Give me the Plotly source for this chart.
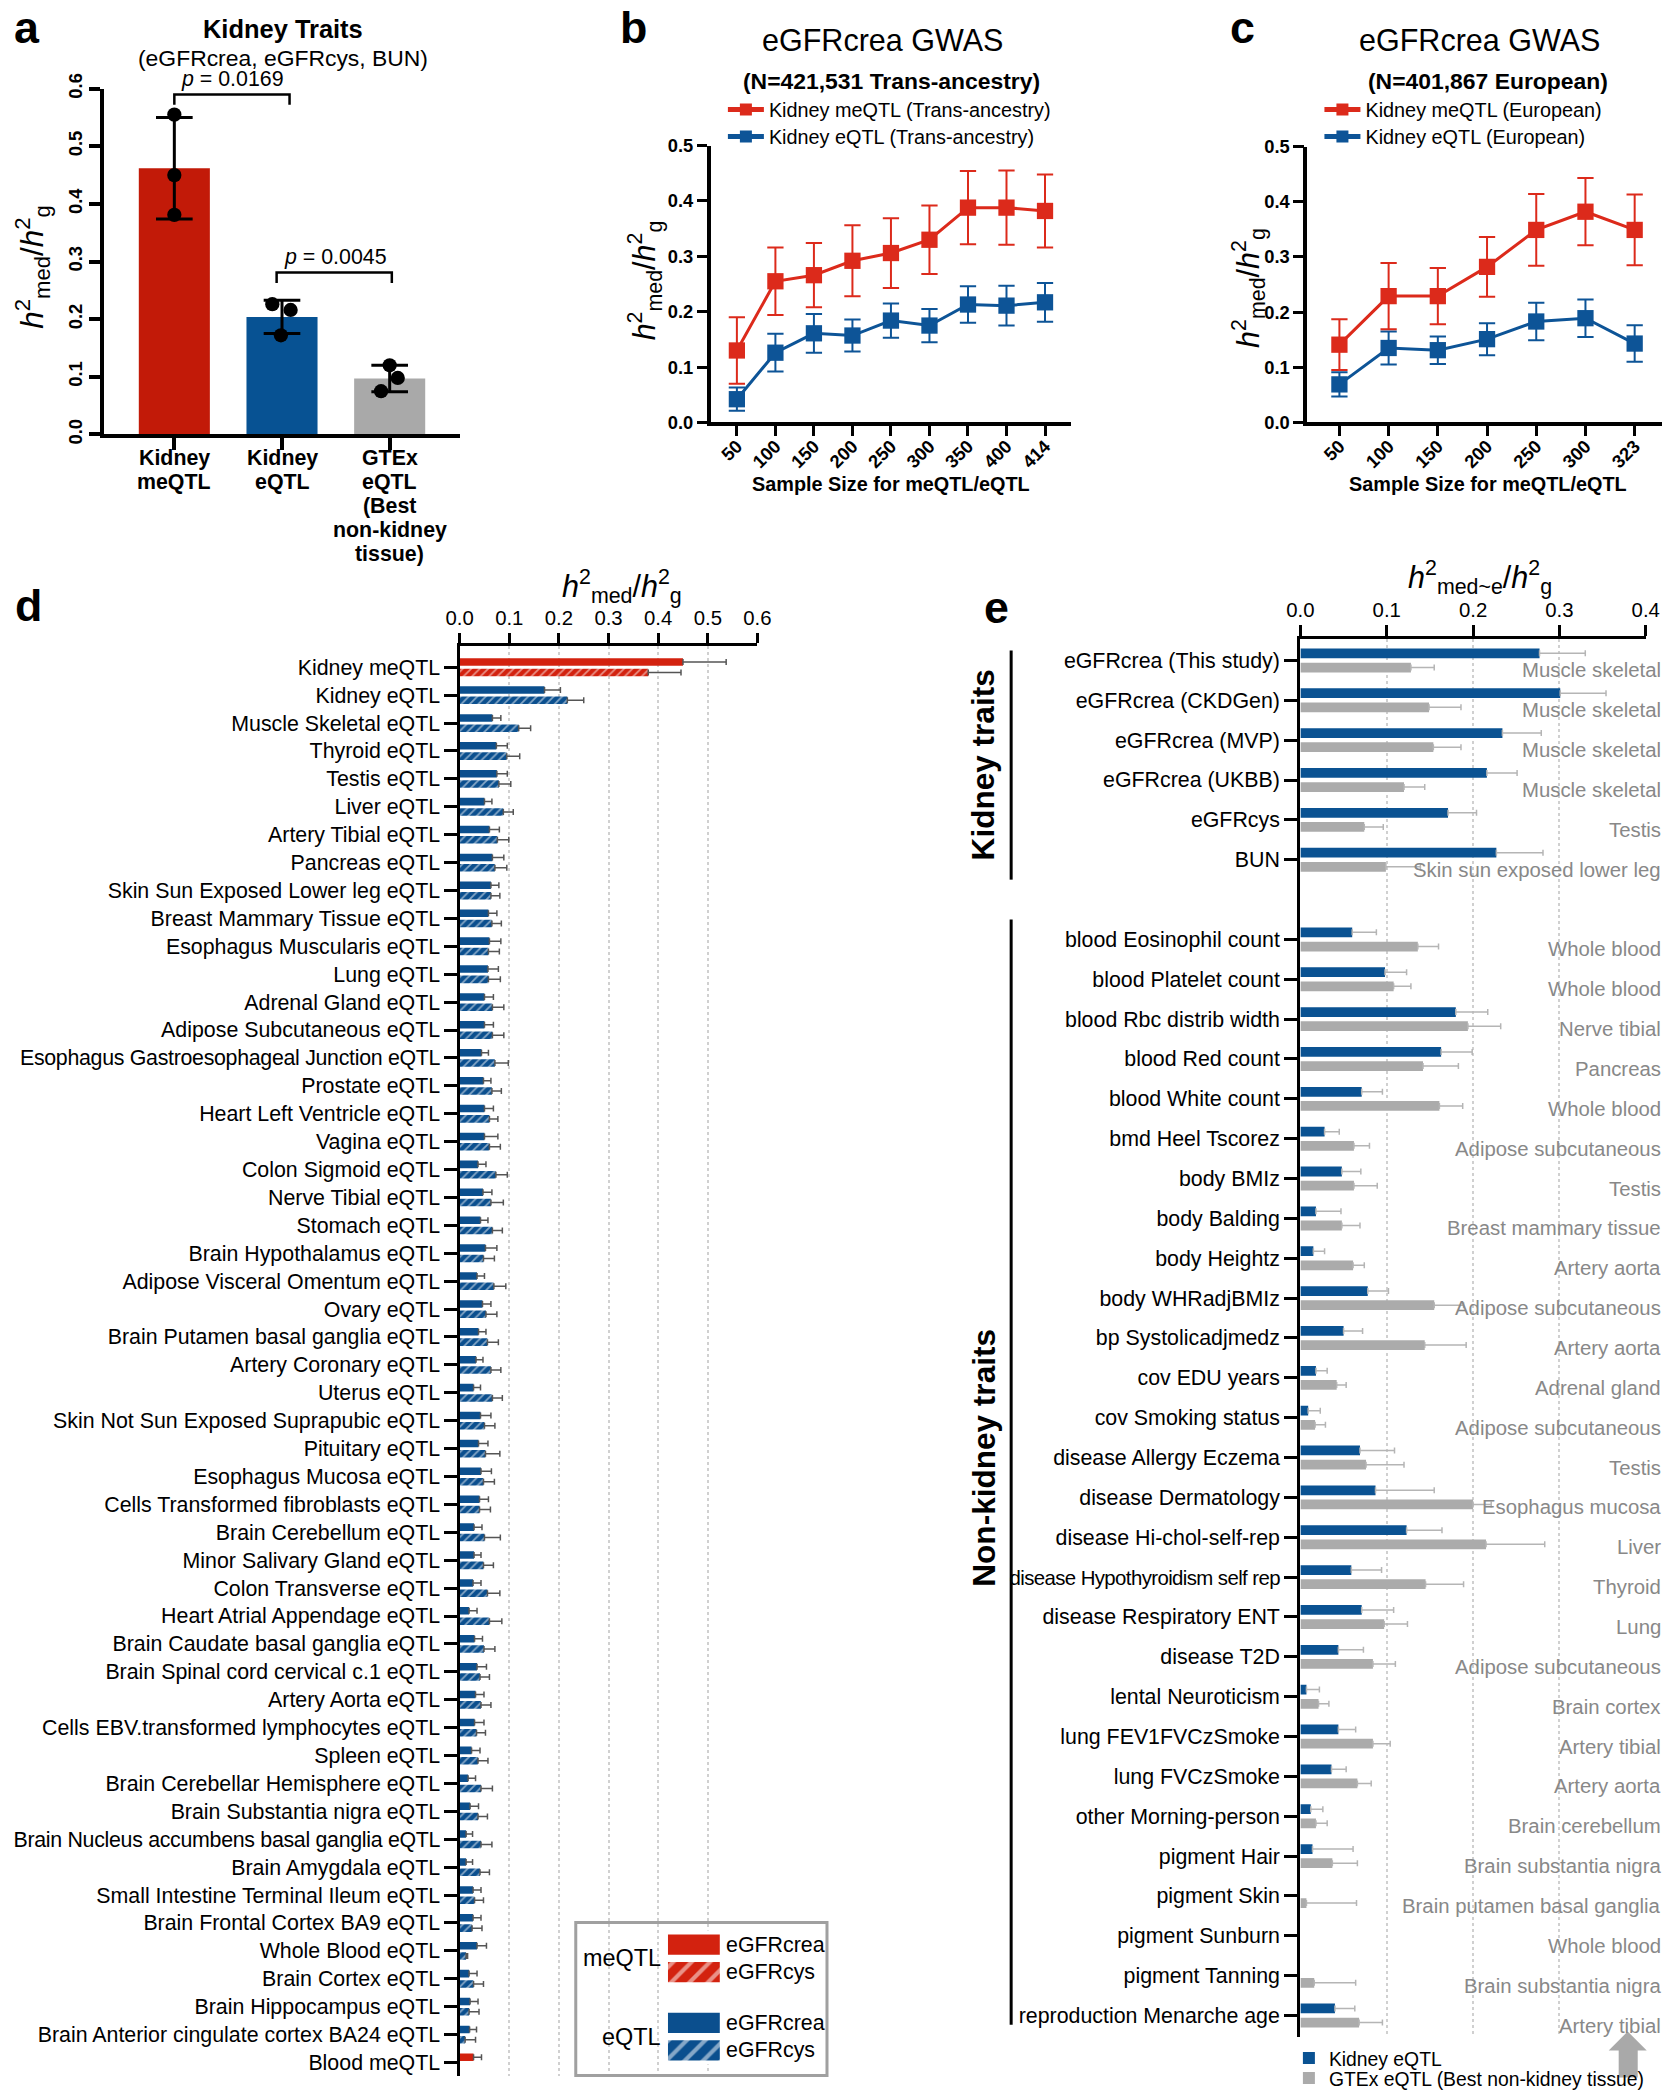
import plotly.graph_objects as go

W, H = 1678, 2100          # figure / page size
# The captured picture shows the page inside a thin border, rescaled to W x H.
# Positions below are given in picture pixels and converted to figure fractions.
PAD_X, PAD_Y = 15.0, 13.45
KX, KY = W / (W + 2 * PAD_X), 0.9887
FS = 1 / KX                # size compensation for fonts / marks
FONT = "Liberation Sans, Arial, Helvetica, sans-serif"

# ---------------- DATA ----------------
a_groups = ["Kidney<br>meQTL", "Kidney<br>eQTL", "GTEx<br>eQTL<br>(Best<br>non-kidney<br>tissue)"]
a_means = [0.462, 0.204, 0.097]
a_sd = [0.088, 0.029, 0.023]
a_points = [[0.555, 0.450, 0.381], [0.226, 0.216, 0.172], [0.120, 0.098, 0.075]]
a_pvalues = ["0.0169", "0.0045"]

b_sizes = [50, 100, 150, 200, 250, 300, 350, 400, 414]
b_meqtl = [0.130, 0.255, 0.266, 0.292, 0.306, 0.330, 0.388, 0.388, 0.382]
b_meqtl_err = [0.060, 0.061, 0.058, 0.064, 0.063, 0.062, 0.066, 0.067, 0.066]
b_eqtl = [0.042, 0.126, 0.161, 0.157, 0.184, 0.175, 0.213, 0.211, 0.217]
b_eqtl_err = [0.021, 0.034, 0.035, 0.029, 0.031, 0.030, 0.033, 0.036, 0.035]

c_sizes = [50, 100, 150, 200, 250, 300, 323]
c_meqtl = [0.141, 0.229, 0.229, 0.282, 0.349, 0.382, 0.349]
c_meqtl_err = [0.046, 0.060, 0.051, 0.054, 0.065, 0.061, 0.064]
c_eqtl = [0.069, 0.135, 0.131, 0.151, 0.183, 0.189, 0.143]
c_eqtl_err = [0.022, 0.030, 0.025, 0.029, 0.034, 0.034, 0.033]

d_labels = [
    "Kidney meQTL", "Kidney eQTL", "Muscle Skeletal eQTL", "Thyroid eQTL", "Testis eQTL",
    "Liver eQTL", "Artery Tibial eQTL", "Pancreas eQTL", "Skin Sun Exposed Lower leg eQTL",
    "Breast Mammary Tissue eQTL", "Esophagus Muscularis eQTL", "Lung eQTL", "Adrenal Gland eQTL",
    "Adipose Subcutaneous eQTL", "Esophagus Gastroesophageal Junction eQTL", "Prostate eQTL",
    "Heart Left Ventricle eQTL", "Vagina eQTL", "Colon Sigmoid eQTL", "Nerve Tibial eQTL",
    "Stomach eQTL", "Brain Hypothalamus eQTL", "Adipose Visceral Omentum eQTL", "Ovary eQTL",
    "Brain Putamen basal ganglia eQTL", "Artery Coronary eQTL", "Uterus eQTL",
    "Skin Not Sun Exposed Suprapubic eQTL", "Pituitary eQTL", "Esophagus Mucosa eQTL",
    "Cells Transformed fibroblasts eQTL", "Brain Cerebellum eQTL", "Minor Salivary Gland eQTL",
    "Colon Transverse eQTL", "Heart Atrial Appendage eQTL", "Brain Caudate basal ganglia eQTL",
    "Brain Spinal cord cervical c.1 eQTL", "Artery Aorta eQTL", "Cells EBV.transformed lymphocytes eQTL",
    "Spleen eQTL", "Brain Cerebellar Hemisphere eQTL", "Brain Substantia nigra eQTL",
    "Brain Nucleus accumbens basal ganglia eQTL", "Brain Amygdala eQTL",
    "Small Intestine Terminal Ileum eQTL", "Brain Frontal Cortex BA9 eQTL", "Whole Blood eQTL",
    "Brain Cortex eQTL", "Brain Hippocampus eQTL", "Brain Anterior cingulate cortex BA24 eQTL",
    "Blood meQTL"]
d_crea = [0.450, 0.171, 0.066, 0.074, 0.075, 0.050, 0.060, 0.066, 0.063, 0.058, 0.060, 0.057, 0.050, 0.050, 0.044,
          0.048, 0.050, 0.050, 0.037, 0.047, 0.042, 0.052, 0.035, 0.046, 0.038, 0.033, 0.028, 0.042, 0.038, 0.043,
          0.040, 0.029, 0.029, 0.027, 0.019, 0.030, 0.035, 0.032, 0.030, 0.024, 0.017, 0.021, 0.013, 0.013, 0.027,
          0.027, 0.035, 0.019, 0.021, 0.020, 0.028]
d_crea_err = [0.087, 0.032, 0.017, 0.022, 0.021, 0.015, 0.020, 0.023, 0.016, 0.017, 0.023, 0.021, 0.018, 0.018, 0.014,
              0.015, 0.018, 0.027, 0.016, 0.018, 0.015, 0.023, 0.015, 0.017, 0.015, 0.014, 0.014, 0.021, 0.019, 0.021,
              0.018, 0.016, 0.014, 0.016, 0.016, 0.016, 0.019, 0.017, 0.019, 0.017, 0.015, 0.017, 0.013, 0.013, 0.016,
              0.016, 0.019, 0.016, 0.016, 0.014, 0.016]
d_cys = [0.380, 0.217, 0.119, 0.095, 0.079, 0.088, 0.076, 0.071, 0.063, 0.065, 0.058, 0.058, 0.066, 0.066, 0.071,
         0.065, 0.060, 0.060, 0.073, 0.063, 0.066, 0.048, 0.069, 0.053, 0.056, 0.063, 0.066, 0.050, 0.052, 0.048,
         0.040, 0.050, 0.048, 0.056, 0.060, 0.049, 0.041, 0.043, 0.034, 0.037, 0.043, 0.037, 0.043, 0.041, 0.030,
         0.025, 0.013, 0.028, 0.019, 0.011, None]
d_cys_err = [0.066, 0.033, 0.024, 0.026, 0.024, 0.020, 0.023, 0.024, 0.018, 0.019, 0.022, 0.024, 0.023, 0.023, 0.027,
             0.019, 0.017, 0.022, 0.023, 0.025, 0.020, 0.022, 0.024, 0.022, 0.022, 0.020, 0.020, 0.021, 0.029, 0.022,
             0.022, 0.032, 0.020, 0.025, 0.025, 0.022, 0.019, 0.020, 0.018, 0.020, 0.023, 0.019, 0.022, 0.019, 0.018,
             0.020, 0.003, 0.020, 0.020, 0.021, None]

e_kidney_traits = ["eGFRcrea (This study)", "eGFRcrea (CKDGen)", "eGFRcrea (MVP)", "eGFRcrea (UKBB)",
                   "eGFRcys", "BUN"]
e_other_traits = ["blood Eosinophil count", "blood Platelet count", "blood Rbc distrib width", "blood Red count",
                  "blood White count", "bmd Heel Tscorez", "body BMIz", "body Balding", "body Heightz",
                  "body WHRadjBMIz", "bp Systolicadjmedz", "cov EDU years", "cov Smoking status",
                  "disease Allergy Eczema", "disease Dermatology", "disease Hi-chol-self-rep",
                  "disease Hypothyroidism self rep", "disease Respiratory ENT", "disease T2D",
                  "lental Neuroticism", "lung FEV1FVCzSmoke", "lung FVCzSmoke", "other Morning-person",
                  "pigment Hair", "pigment Skin", "pigment Sunburn", "pigment Tanning",
                  "reproduction Menarche age"]
e_tissues = ["Muscle skeletal", "Muscle skeletal", "Muscle skeletal", "Muscle skeletal", "Testis",
             "Skin sun exposed lower leg",
             "Whole blood", "Whole blood", "Nerve tibial", "Pancreas", "Whole blood", "Adipose subcutaneous",
             "Testis", "Breast mammary tissue", "Artery aorta", "Adipose subcutaneous", "Artery aorta",
             "Adrenal gland", "Adipose subcutaneous", "Testis", "Esophagus mucosa", "Liver", "Thyroid", "Lung",
             "Adipose subcutaneous", "Brain cortex", "Artery tibial", "Artery aorta", "Brain cerebellum",
             "Brain substantia nigra", "Brain putamen basal ganglia", "Whole blood", "Brain substantia nigra",
             "Artery tibial"]
e_kidney_eqtl = [0.277, 0.301, 0.234, 0.216, 0.171, 0.227,
                 0.060, 0.098, 0.180, 0.163, 0.071, 0.028, 0.048, 0.018, 0.015, 0.078, 0.050, 0.018, 0.009, 0.069,
                 0.087, 0.123, 0.059, 0.071, 0.044, 0.007, 0.044, 0.036, 0.012, 0.014, None, None, None, 0.040]
e_kidney_eqtl_err = [0.053, 0.053, 0.045, 0.035, 0.033, 0.054,
                     0.028, 0.025, 0.037, 0.036, 0.024, 0.017, 0.022, 0.029, 0.013, 0.024, 0.022, 0.013, 0.014,
                     0.040, 0.068, 0.041, 0.035, 0.037, 0.029, 0.015, 0.020, 0.017, 0.014, 0.047, None, None, None,
                     0.023]
e_gtex = [0.128, 0.149, 0.154, 0.120, 0.074, 0.099,
          0.136, 0.108, 0.194, 0.142, 0.161, 0.062, 0.062, 0.048, 0.061, 0.155, 0.144, 0.042, 0.017, 0.076,
          0.200, 0.215, 0.145, 0.097, 0.084, 0.021, 0.084, 0.066, 0.018, 0.037, 0.007, None, 0.016, 0.068]
e_gtex_err = [0.027, 0.037, 0.032, 0.024, 0.022, 0.040,
              0.024, 0.020, 0.038, 0.041, 0.027, 0.018, 0.027, 0.021, 0.013, 0.034, 0.048, 0.011, 0.012, 0.044,
              0.021, 0.068, 0.044, 0.027, 0.026, 0.012, 0.020, 0.016, 0.013, 0.029, 0.058, None, 0.048, 0.027]

# ---------------- STYLE ----------------
RED_A, BLUE_A, GREY_A = "#C21A08", "#075293", "#A9A9A9"
RED_B, BLUE_B = "#DC2A1B", "#0D5497"
RED_D, BLUE_D = "#D3220F", "#0B4F8E"
BLUE_E, GREY_E = "#0A5292", "#ABABAB"
TISSUE_GREY = "#888888"
a_jitter = [[0.0, 0.0, 0.0], [-0.09, 0.08, -0.01], [0.0, 0.075, -0.08]]
D_TIGHT = {"Brain Nucleus accumbens basal ganglia eQTL", "Esophagus Gastroesophageal Junction eQTL"}


def fx(x):
    return (x / KX - PAD_X) / W


def fy(y):
    return 1 - (y / KY - PAD_Y) / H


def dom_x(x0, x1):
    return [fx(x0), fx(x1)]


def dom_y(ytop, ybot):
    return [fy(ybot), fy(ytop)]


def s(v):
    return v * FS


def tf(size, bold=False, color="black"):
    d = dict(family=FONT, size=s(size), color=color)
    if bold:
        d["weight"] = "bold"
    return d


fig = go.Figure()

# ---------------- PANEL A ----------------
fig.add_trace(go.Bar(
    x=list(range(len(a_means))), y=a_means, width=0.66,
    marker=dict(color=[RED_A, BLUE_A, GREY_A], line=dict(width=0)),
    error_y=dict(type="data", array=a_sd, color="black", thickness=3, width=s(18)),
    xaxis="x", yaxis="y", showlegend=False, hoverinfo="skip"))
for i, pts in enumerate(a_points):
    fig.add_trace(go.Scatter(
        x=[i + j for j in a_jitter[i]], y=pts, mode="markers",
        marker=dict(color="black", size=s(14)), xaxis="x", yaxis="y", showlegend=False, cliponaxis=False))

# ---------------- PANEL B / C ----------------
for (sizes, me, me_err, e, e_err, xa, ya, legs, suffix) in [
        (b_sizes, b_meqtl, b_meqtl_err, b_eqtl, b_eqtl_err, "x2", "y2", ("legend", "legend2"), "Trans-ancestry"),
        (c_sizes, c_meqtl, c_meqtl_err, c_eqtl, c_eqtl_err, "x3", "y3", ("legend3", "legend4"), "European")]:
    cats = [str(v) for v in sizes]
    fig.add_trace(go.Scatter(
        x=cats, y=e, mode="lines+markers", name=f"Kidney eQTL ({suffix})",
        line=dict(color=BLUE_B, width=3), marker=dict(symbol="square", size=s(16), color=BLUE_B),
        error_y=dict(type="data", array=e_err, color=BLUE_B, thickness=2, width=s(8)),
        xaxis=xa, yaxis=ya, legend=legs[1], cliponaxis=False))
    fig.add_trace(go.Scatter(
        x=cats, y=me, mode="lines+markers", name=f"Kidney meQTL ({suffix})",
        line=dict(color=RED_B, width=3), marker=dict(symbol="square", size=s(16), color=RED_B),
        error_y=dict(type="data", array=me_err, color=RED_B, thickness=2, width=s(8)),
        xaxis=xa, yaxis=ya, legend=legs[0], cliponaxis=False))

# ---------------- PANEL D ----------------
d_pos = list(range(len(d_labels)))
d_colors = [RED_D if "meQTL" in lab else BLUE_D for lab in d_labels]
d_ticktext = [('<span style="letter-spacing:-0.3px">' + t + '</span>') if t in D_TIGHT else t for t in d_labels]
fig.add_trace(go.Bar(
    y=d_pos, x=d_crea, orientation="h", width=0.27, offset=-0.32,
    marker=dict(color=d_colors, line=dict(width=0)),
    error_x=dict(type="data", array=d_crea_err, arrayminus=[0] * len(d_crea), symmetric=False,
                 color="#555555", thickness=1.5, width=3),
    xaxis="x4", yaxis="y4", showlegend=False))
fig.add_trace(go.Bar(
    y=d_pos, x=d_cys, orientation="h", width=0.27, offset=0.05,
    marker=dict(color=d_colors, line=dict(width=0),
                pattern=dict(shape="/", fgcolor="white", size=6, solidity=0.3, fillmode="overlay")),
    error_x=dict(type="data", array=d_cys_err, arrayminus=[0] * len(d_cys), symmetric=False,
                 color="#555555", thickness=1.5, width=3),
    xaxis="x4", yaxis="y4", showlegend=False))

# legend key for panel d (drawn as bars on a hidden mini axis)
leg_rows = [0, 1, 2.85, 3.85]
leg_text = ["eGFRcrea", "eGFRcys", "eGFRcrea", "eGFRcys"]
fig.add_trace(go.Bar(
    y=leg_rows, x=[1, 1, 1, 1], orientation="h", width=0.74,
    marker=dict(color=[RED_D, RED_D, BLUE_D, BLUE_D], line=dict(width=0),
                pattern=dict(shape=["", "/", "", "/"], fgcolor="white", size=13, solidity=0.32,
                             fillmode="overlay")),
    xaxis="x6", yaxis="y6", showlegend=False, hoverinfo="skip"))

# ---------------- PANEL E ----------------
n_k = len(e_kidney_traits)
e_pos = list(range(n_k)) + [n_k + 1 + i for i in range(len(e_other_traits))]
e_ticktext = e_kidney_traits + [
    ('<span style="font-size:%.1fpx;letter-spacing:-0.6px">' % s(20) + t + '</span>') if len(t) > 28 else t
    for t in e_other_traits]
fig.add_trace(go.Bar(
    y=e_pos, x=e_kidney_eqtl, orientation="h", width=0.245, offset=-0.30,
    marker=dict(color=BLUE_E, line=dict(width=0)), name="Kidney eQTL",
    error_x=dict(type="data", array=e_kidney_eqtl_err, arrayminus=[0] * len(e_pos), symmetric=False,
                 color="#B5B5B5", thickness=1.5, width=3),
    xaxis="x5", yaxis="y5", legend="legend5"))
fig.add_trace(go.Bar(
    y=e_pos, x=e_gtex, orientation="h", width=0.245, offset=0.055,
    marker=dict(color=GREY_E, line=dict(width=0)), name="GTEx eQTL (Best non-kidney tissue)",
    error_x=dict(type="data", array=e_gtex_err, arrayminus=[0] * len(e_pos), symmetric=False,
                 color="#B5B5B5", thickness=1.5, width=3),
    xaxis="x5", yaxis="y5", legend="legend6"))

# ---------------- AXES ----------------
common = dict(showline=True, linecolor="black", ticks="outside", tickcolor="black",
              showgrid=False, zeroline=False, fixedrange=True)

layout_axes = dict(
    xaxis=dict(common, domain=dom_x(105, 460), anchor="y", range=[-0.65, 2.65],
               tickvals=list(range(len(a_groups))), ticktext=[""] * len(a_groups), linewidth=4, ticklen=s(11),
               tickwidth=3.5, tickfont=tf(20, True)),
    yaxis=dict(common, domain=dom_y(87, 433), anchor="x", range=[0, 0.6], dtick=0.1, tickformat=".1f",
               tickangle=-90, linewidth=4, ticklen=s(11), tickwidth=3.5, tickfont=tf(18, True)),
    xaxis2=dict(common, domain=dom_x(711, 1071), anchor="y2", type="category", range=[-0.675, 8.68],
                tickangle=-45, linewidth=3.5, ticklen=s(10), tickwidth=3, tickfont=tf(18, True),
                ticklabelstandoff=-8),
    yaxis2=dict(common, domain=dom_y(144, 421), anchor="x2", range=[0, 0.5], dtick=0.1, tickformat=".1f",
                linewidth=3.5, ticklen=s(10), tickwidth=3, tickfont=tf(18, True)),
    xaxis3=dict(common, domain=dom_x(1307, 1661), anchor="y3", type="category", range=[-0.65, 6.55],
                tickangle=-45, linewidth=3.5, ticklen=s(10), tickwidth=3, tickfont=tf(18, True),
                ticklabelstandoff=-8),
    yaxis3=dict(common, domain=dom_y(145, 421), anchor="x3", range=[0, 0.5], dtick=0.1, tickformat=".1f",
                linewidth=3.5, ticklen=s(10), tickwidth=3, tickfont=tf(18, True)),
    xaxis4=dict(common, domain=dom_x(460, 757.5), anchor="y4", side="top", range=[0, 0.6], dtick=0.1,
                tickformat=".1f", linewidth=3, ticklen=s(10), tickwidth=3, tickfont=tf(20),
                showgrid=True, gridcolor="#D0D0D0", griddash="dot", gridwidth=1.5),
    yaxis4=dict(common, domain=dom_y(645, 2076), anchor="x4", range=[50.5, -0.75],
                tickvals=d_pos, ticktext=d_ticktext, linewidth=3, ticklen=s(12), tickwidth=3, tickfont=tf(21)),
    xaxis5=dict(common, domain=dom_x(1300, 1645), anchor="y5", side="top", range=[0, 0.4], dtick=0.1,
                tickformat=".1f", linewidth=3, ticklen=s(11), tickwidth=3, tickfont=tf(20),
                showgrid=True, gridcolor="#D0D0D0", griddash="dot", gridwidth=1.5),
    yaxis5=dict(common, domain=dom_y(638, 2037), anchor="x5", range=[34.55, -0.53],
                tickvals=e_pos, ticktext=e_ticktext, linewidth=3, ticklen=s(13), tickwidth=3, tickfont=tf(21)),
    xaxis6=dict(domain=dom_x(668, 720), anchor="y6", range=[0, 1], visible=False, fixedrange=True),
    yaxis6=dict(domain=dom_y(1930, 2064), anchor="x6", range=[4.36, -0.51], visible=False, fixedrange=True),
)

# ---------------- ANNOTATIONS ----------------
ann = []


def note(text, x, y, size, bold=False, color="black", xanchor="center", yanchor="middle", angle=0,
         xref="paper", yref="paper"):
    ax = fx(x) if xref == "paper" else x
    ay = fy(y) if yref == "paper" else y
    ann.append(dict(text=text, x=ax, y=ay, xref=xref, yref=yref, showarrow=False, xanchor=xanchor,
                    yanchor=yanchor, textangle=angle, font=tf(size, bold, color)))


HMED = "<i>h</i><sup>2</sup><sub>med</sub>/<i>h</i><sup>2</sup><sub>g</sub>"
HMEDE = "<i>h</i><sup>2</sup><sub>med~e</sub>/<i>h</i><sup>2</sup><sub>g</sub>"

for letter, x, y in [("a", 28, 25), ("b", 634, 25), ("c", 1242, 25), ("d", 29, 604), ("e", 996, 606)]:
    note(letter, x, y, 44, True)

note("Kidney Traits", 283, 27, 25, True)
note("(eGFRcrea, eGFRcys, BUN)", 283, 56, 22.5)
note(HMED, 33, 265, 31, angle=-90)
note("<i>p</i> = " + a_pvalues[0], 0.54, 0.592, 21, xref="x", yref="y", yanchor="bottom")
note("<i>p</i> = " + a_pvalues[1], 1.50, 0.283, 21, xref="x", yref="y", yanchor="bottom")
for i, g in enumerate(a_groups):
    for k, line in enumerate(g.split("<br>")):
        ann.append(dict(text=line, x=i, xref="x", y=fy(457 + 23.8 * k), yref="paper", showarrow=False,
                        xanchor="center", yanchor="middle", font=tf(21, True)))

note("eGFRcrea GWAS", 882, 38, 30)
note("(N=421,531 Trans-ancestry)", 891, 79, 22.5, True)
note(HMED, 645, 279, 30, angle=-90)
note("Sample Size for meQTL/eQTL", 891, 483, 19.5, True)
note("eGFRcrea GWAS", 1479, 38, 30)
note("(N=401,867 European)", 1487, 79, 22.5, True)
note(HMED, 1248, 286, 30, angle=-90)
note("Sample Size for meQTL/eQTL", 1487, 483, 19.5, True)

note(HMED, 622, 585, 30)
note("meQTL", 663, 0.5, 23, xanchor="right", xref="paper", yref="y6")
note("eQTL", 663, 3.35, 23, xanchor="right", xref="paper", yref="y6")
for r, t in zip(leg_rows, leg_text):
    note(t, 724, r, 21, xanchor="left", xref="paper", yref="y6")

note(HMEDE, 1479, 576, 30)
for p, t in zip(e_pos, e_tissues):
    note(t, 1662, p + 0.25, 20, color=TISSUE_GREY, xanchor="right", xref="paper", yref="y5")
note("Kidney traits", 983, 2.63, 31, True, angle=-90, yref="y5")
note("Non-kidney traits", 983, 20.0, 31, True, angle=-90, yref="y5")

# ---------------- SHAPES ----------------
shapes = [
    dict(type="path", xref="x", yref="y", path="M 0,0.572 L 0,0.590 L 1.07,0.590 L 1.07,0.572",
         line=dict(color="black", width=2.5)),
    dict(type="path", xref="x", yref="y", path="M 0.95,0.263 L 0.95,0.281 L 2.02,0.281 L 2.02,0.263",
         line=dict(color="black", width=2.5)),
    dict(type="line", xref="paper", yref="y5", x0=fx(1011), x1=fx(1011), y0=-0.25, y1=5.5,
         line=dict(color="black", width=3)),
    dict(type="line", xref="paper", yref="y5", x0=fx(1011), x1=fx(1011), y0=6.5, y1=34.23,
         line=dict(color="black", width=3)),
    dict(type="rect", xref="paper", yref="paper", x0=fx(576), x1=fx(827), y0=fy(2075), y1=fy(1922),
         line=dict(color="#A0A0A0", width=3)),
]
arrow_pts = [(1627, 2031), (1646, 2050), (1637, 2050), (1637, 2077), (1618, 2077), (1618, 2050), (1608, 2050)]
arrow_path = "M " + " L ".join(f"{fx(x):.5f},{fy(y):.5f}" for x, y in arrow_pts) + " Z"
shapes.append(dict(type="path", xref="paper", yref="paper", path=arrow_path,
                   fillcolor="#A9A9A9", line=dict(width=0)))


def legend_at(x_marker, y_center, size, itemwidth=30):
    return dict(x=fx(x_marker - 5 - itemwidth / 2), y=fy(y_center), xanchor="left", yanchor="middle",
                font=tf(size), bgcolor="rgba(0,0,0,0)", itemclick=False, itemdoubleclick=False,
                itemwidth=itemwidth, itemsizing="constant", borderwidth=0)


fig.update_layout(
    width=W, height=H, autosize=False, margin=dict(l=0, r=0, t=0, b=0, pad=0),
    paper_bgcolor="white", plot_bgcolor="white", barmode="overlay",
    font=dict(family=FONT, color="black"),
    annotations=ann, shapes=shapes,
    legend=legend_at(746, 108, 19.5, 36),
    legend2=legend_at(746, 135, 19.5, 36),
    legend3=legend_at(1342, 108, 19.5, 36),
    legend4=legend_at(1342, 135, 19.5, 36),
    legend5=legend_at(1308.5, 2058, 19),
    legend6=legend_at(1308.5, 2078, 19),
    **layout_axes,
)

PIN = ("var st=document.documentElement.style;st.margin='0';st.padding='0';st.overflow='hidden';"
       "var b=document.body.style;b.margin='0';b.padding='0';b.overflow='hidden';"
       "var g=document.getElementById('{plot_id}');g.style.position='fixed';g.style.left='0px';"
       "g.style.top='0px';g.style.margin='0';")
fig.write_html("out.html", config={"displayModeBar": False}, post_script=PIN)
